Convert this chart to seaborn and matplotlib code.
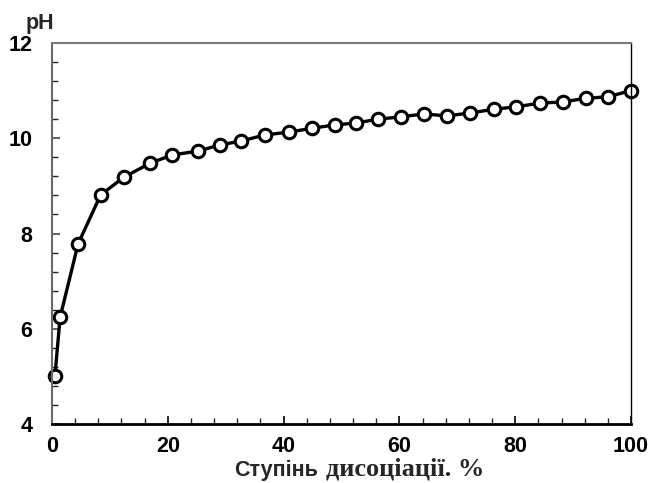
import matplotlib
matplotlib.use("Agg")
import matplotlib.pyplot as plt
from matplotlib.ticker import MultipleLocator
import seaborn as sns
import pandas as pd

degree = [0.5, 1.4, 4.5, 8.4, 12.4, 17.0, 20.8, 25.2, 29.0, 32.6, 36.8, 41.0,
          44.9, 48.8, 52.5, 56.3, 60.3, 64.2, 68.2, 72.2, 76.4, 80.2, 84.3,
          88.2, 92.2, 96.0, 100]
ph = [5.0, 6.24, 7.78, 8.81, 9.18, 9.48, 9.65, 9.73, 9.86, 9.94, 10.07, 10.13,
      10.21, 10.28, 10.32, 10.40, 10.45, 10.51, 10.47, 10.53, 10.61, 10.66,
      10.74, 10.76, 10.84, 10.87, 11.0]
x_ticks = [0, 20, 40, 60, 80, 100]
y_ticks = [4, 6, 8, 10, 12]
y_label = "pH"
x_label_a = "Ступінь"
x_label_b = "дисоціації. %"

df = pd.DataFrame({"degree": degree, "ph": ph})

sns.set_style("ticks")
plt.rcParams["font.family"] = ["Liberation Sans", "DejaVu Sans"]

fig = plt.figure(figsize=(6.49, 4.83), dpi=100)
ax = fig.add_axes([52 / 649, 1 - 424 / 483, (631 - 52) / 649, (424 - 43) / 483])

sns.lineplot(data=df, x="degree", y="ph", ax=ax, color="black", linewidth=2.4,
             marker="o", markersize=9, markerfacecolor="white",
             markeredgecolor="black", markeredgewidth=2.2, clip_on=False)

ax.set_xlim(0, 100)
ax.set_ylim(4, 12)
ax.set_xticks(x_ticks)
ax.set_yticks(y_ticks)
ax.xaxis.set_minor_locator(MultipleLocator(4))
ax.yaxis.set_minor_locator(MultipleLocator(0.4))
ax.tick_params(axis="both", which="major", direction="in", length=6, width=1.2,
               labelsize=15.5)
ax.tick_params(axis="both", which="minor", direction="in", length=4, width=1.0)
ax.tick_params(axis="x", which="major", pad=9)
ax.tick_params(axis="y", which="major", pad=14)
for lab in ax.get_xticklabels() + ax.get_yticklabels():
    lab.set_fontweight("bold")
ax.set_xlabel("")
ax.set_ylabel("")

for side in ["top", "right", "left", "bottom"]:
    ax.spines[side].set_visible(True)
ax.spines["top"].set_color("#7a7a7a")
ax.spines["top"].set_linewidth(1.5)
ax.spines["left"].set_color("#6a6a6a")
ax.spines["left"].set_linewidth(1.5)
ax.spines["right"].set_color("black")
ax.spines["right"].set_linewidth(1.0)
ax.spines["bottom"].set_color("black")
ax.spines["bottom"].set_linewidth(2.0)
ax.tick_params(axis="y", colors="#444444", labelcolor="black")
ax.tick_params(axis="x", colors="black")

fig.text(40 / 649, 1 - 23 / 483, y_label, ha="center", va="center",
         fontsize=15.5, fontweight="bold")
fig.text(318 / 649, 1 - 476 / 483, x_label_a, ha="right", va="baseline",
         fontsize=15.5, fontweight="bold", family=["Liberation Sans", "DejaVu Sans"])
fig.text(326 / 649, 1 - 476 / 483, x_label_b, ha="left", va="baseline",
         fontsize=19, fontweight="bold", family=["Liberation Serif", "DejaVu Serif"])

fig.savefig("out.png", dpi=100, facecolor="white")
